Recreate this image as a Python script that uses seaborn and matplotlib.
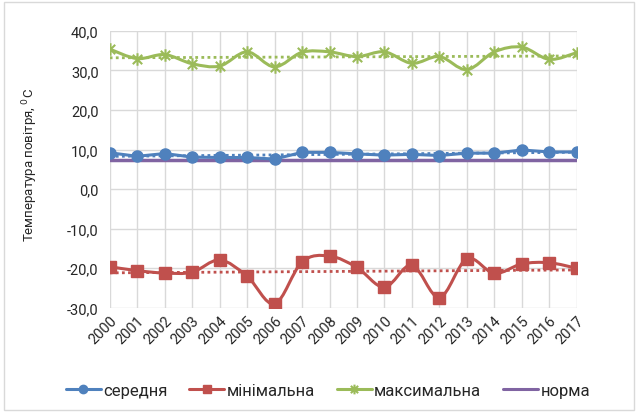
import numpy as np
import pandas as pd
import matplotlib
matplotlib.use('Agg')
import matplotlib.pyplot as plt
import seaborn as sns
from matplotlib.path import Path
from matplotlib.patches import PathPatch, Rectangle
from matplotlib.lines import Line2D
from matplotlib.ticker import FuncFormatter, MultipleLocator

years = list(range(2000, 2018))
serednia = [9.2, 8.3, 9.0, 8.1, 8.0, 8.0, 7.6, 9.3, 9.3, 8.9, 8.6, 8.8, 8.5, 9.1, 9.1, 9.9, 9.4, 9.4]
minimalna = [-19.6, -20.6, -21.2, -21.0, -17.9, -22.0, -29.0, -18.4, -16.9, -19.8,
             -24.8, -19.2, -27.4, -17.6, -21.3, -18.9, -18.6, -20.0]
maksymalna = [35.4, 33.0, 34.0, 31.7, 31.1, 34.7, 30.9, 34.6, 34.7, 33.5,
              34.7, 31.8, 33.5, 30.2, 34.7, 35.9, 32.8, 34.5]
norma = [7.3] * 18
names = ['середня', 'мінімальна', 'максимальна', 'норма']

df = pd.DataFrame({'year': years, 'середня': serednia, 'мінімальна': minimalna,
                   'максимальна': maksymalna, 'норма': norma})

sns.set_theme(style='white')
plt.rcParams['font.family'] = ['Roboto', 'DejaVu Sans']

blue = '#4F81BD'
red = '#C0504D'
green = '#9BBB59'
purple = '#8064A2'
txt = '#262626'

star = Path([(0, -1), (0, 1), (-0.75, -0.75), (0.75, 0.75), (-0.75, 0.75), (0.75, -0.75)],
            [Path.MOVETO, Path.LINETO, Path.MOVETO, Path.LINETO, Path.MOVETO, Path.LINETO])


def smooth_path(x, y):
    # excel-like smoothed line (catmull-rom -> bezier)
    pts = np.column_stack([x, y]).astype(float)
    n = len(pts)
    verts = [pts[0]]
    codes = [Path.MOVETO]
    for i in range(n - 1):
        p0 = pts[i - 1] if i > 0 else pts[i]
        p1 = pts[i]
        p2 = pts[i + 1]
        p3 = pts[i + 2] if i + 2 < n else pts[i + 1]
        verts += [p1 + (p2 - p0) / 6, p2 - (p3 - p1) / 6, p2]
        codes += [Path.CURVE4] * 3
    return Path(verts, codes)


fig = plt.figure(figsize=(6.38, 4.14), dpi=100)
ax = fig.add_axes([0.172, 0.254, 0.732, 0.669])

series = [('середня', blue, 'o', 8, False),
          ('мінімальна', red, 's', 8, True),
          ('максимальна', green, star, 9, True)]

for col, c, m, ms, smooth in series:
    # trend line
    k, b = np.polyfit(df['year'], df[col], 1)
    tr = pd.DataFrame({'year': [years[0], years[-1]]})
    tr['v'] = k * tr['year'] + b
    sns.lineplot(data=tr, x='year', y='v', ax=ax, color=c, linestyle=(0, (1, 1.2)), linewidth=2)

sns.lineplot(data=df, x='year', y='норма', ax=ax, color=purple, linewidth=2.5)

for col, c, m, ms, smooth in series:
    if smooth:
        ax.add_patch(PathPatch(smooth_path(df['year'], df[col]), facecolor='none',
                               edgecolor=c, linewidth=2.2, zorder=3))
    else:
        sns.lineplot(data=df, x='year', y=col, ax=ax, color=c, linewidth=2.2, zorder=3)
    if m is star:
        ax.plot(df['year'], df[col], linestyle='none', marker=star, markersize=ms,
                markeredgecolor=c, markeredgewidth=1.5, color=c, zorder=4)
    else:
        ax.plot(df['year'], df[col], linestyle='none', marker=m, markersize=ms,
                color=c, markeredgecolor=c, zorder=4)

ax.set_xlim(2000, 2017)
ax.set_ylim(-30, 40)
ax.set_xticks(years)
ax.set_xticklabels([str(y) for y in years], rotation=45, ha='right', rotation_mode='anchor',
                   fontsize=10.5, color=txt)
ax.yaxis.set_major_locator(MultipleLocator(10))
ax.yaxis.set_major_formatter(FuncFormatter(lambda v, p: ('%.1f' % v).replace('.', ',')))
ax.tick_params(axis='y', labelsize=10.5, labelcolor=txt, length=0, pad=8)
ax.tick_params(axis='x', length=0, pad=4)
ax.grid(True, color='#D9D9D9', linewidth=1)
ax.set_axisbelow(True)
for s in ax.spines.values():
    s.set_visible(False)
ax.set_xlabel('')
ax.set_ylabel('Температура повітря, $^0$С', fontsize=9.5, color=txt)
ax.yaxis.set_label_coords(-0.15, 0.52)

handles = [Line2D([], [], color=blue, marker='o', markersize=6, linewidth=2.2),
           Line2D([], [], color=red, marker='s', markersize=6, linewidth=2.2),
           Line2D([], [], color=green, marker=star, markersize=7, markeredgewidth=1.5, linewidth=2.2),
           Line2D([], [], color=purple, linewidth=2.2)]
fig.legend(handles, names, loc='center', bbox_to_anchor=(0.514, 0.055), ncol=4, frameon=False,
           fontsize=12, handlelength=2.1, columnspacing=1.3, handletextpad=0.15,
           labelcolor=txt)

fig.add_artist(Rectangle((0.006, 0.008), 0.988, 0.984, transform=fig.transFigure,
                         fill=False, edgecolor='#D9D9D9', linewidth=1))

fig.savefig('out.png', dpi=100)
